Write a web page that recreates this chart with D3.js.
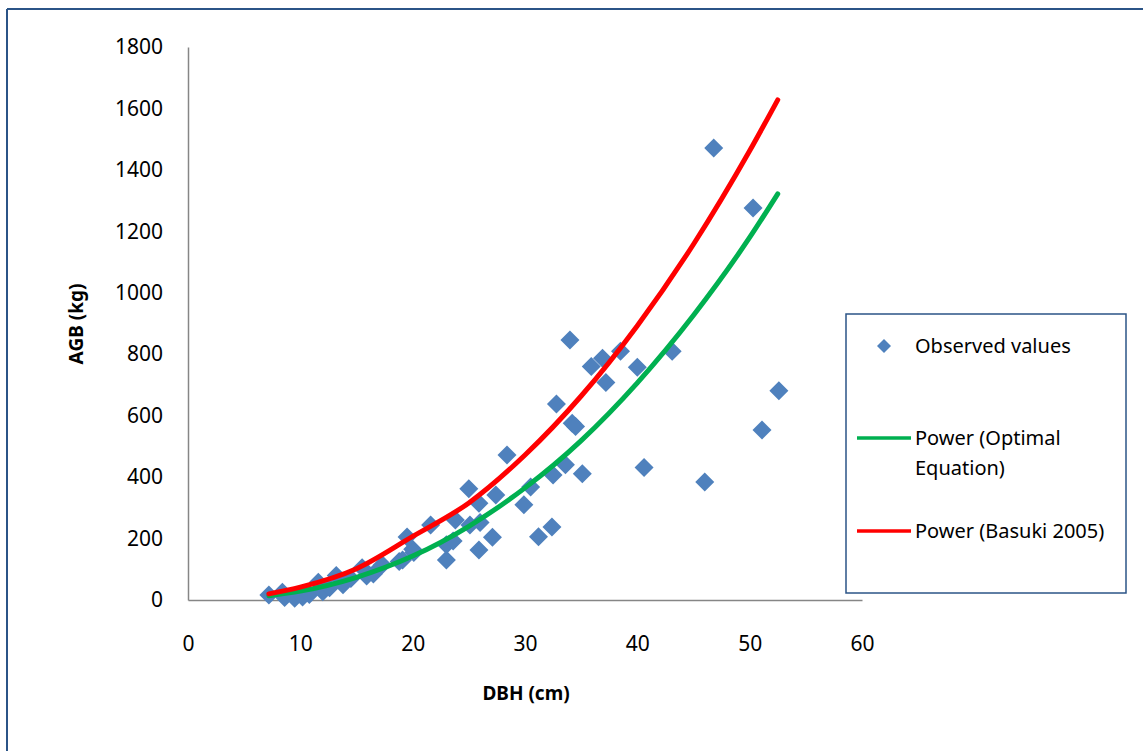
<!DOCTYPE html>
<html>
<head>
<meta charset="utf-8">
<script src="https://cdn.jsdelivr.net/npm/d3@7"></script>
<style>
  body { margin: 0; background: #fff; }
  svg text { font-family: "Noto Sans", "Open Sans", sans-serif; fill: #000; }
</style>
</head>
<body>
<div id="chart"></div>
<script>
var width = 1143,
  height = 751;

// observed trees: DBH (cm) and AGB (kg)
const dbh = [
  7.2, 8.4, 8.6, 9.5, 10.2, 10.8, 11.6, 12.0, 12.6, 13.2, 13.8, 14.5, 15.5, 15.9,
  16.5, 17.3, 18.8, 19.1, 19.5, 20.0, 20.1,
  21.6, 23.0, 23.0, 23.6, 23.8, 25.0, 25.1, 25.9, 25.9, 26.0, 27.1, 27.4, 28.4,
  29.9, 30.5, 31.2, 32.4, 32.5, 32.8, 33.6, 34.0, 34.2, 34.5, 35.1, 35.9, 36.9,
  37.2, 38.5, 40.0, 40.6, 43.1, 46.0, 46.8, 50.3, 51.1, 52.6,
];
const agb = [
  16, 25, 8, 6, 10, 18, 58, 27, 40, 80, 50, 70, 105, 78,
  85, 115, 125, 130, 205, 165, 155,
  244, 130, 180, 192, 260, 362, 244, 163, 315, 252, 204, 342, 472,
  310, 368, 206, 238, 407, 638, 440, 846, 575, 565, 411, 760, 787,
  708, 810, 758, 431, 810, 384, 1471, 1276, 553, 681,
];

// trend lines
const curveDbh = [7.2, 10, 15, 20, 25, 30, 35, 40, 45, 50, 52.5];
const optimalAgb = [14, 29, 74, 143, 240, 365, 519, 707, 927, 1180, 1322];
const basukiAgb = [20, 42, 102, 207, 316, 472, 664, 893, 1158, 1462, 1628];

const xTicks = [0, 10, 20, 30, 40, 50, 60];
const yTicks = [0, 200, 400, 600, 800, 1000, 1200, 1400, 1600, 1800];

const legendLabels = ["Observed values", "Power (Optimal Equation)", "Power (Basuki 2005)"];

var margin = { left: 188, top: 47, right: 281, bottom: 151 };
var plotW = width - margin.left - margin.right,
  plotH = height - margin.top - margin.bottom;

var svg = d3
  .select("#chart")
  .append("svg")
  .attr("width", width)
  .attr("height", height);

// outer frame (only top and left edges visible)
svg.append("line").attr("x1", 7).attr("x2", width).attr("y1", 9).attr("y2", 9)
  .attr("stroke", "#2B5487").attr("stroke-width", 2);
svg.append("line").attr("x1", 7).attr("x2", 7).attr("y1", 9).attr("y2", height)
  .attr("stroke", "#2B5487").attr("stroke-width", 2);

var x = d3.scaleLinear().domain([0, 60]).range([margin.left, margin.left + plotW]);
var y = d3.scaleLinear().domain([0, 1800]).range([margin.top + plotH, margin.top]);

// axes: grey lines, no tick marks
var xAxis = svg
  .append("g")
  .attr("transform", "translate(0," + y(0) + ")")
  .call(d3.axisBottom(x).tickValues(xTicks).tickSize(0).tickPadding(51).tickFormat(d3.format("d")));
var yAxis = svg
  .append("g")
  .attr("transform", "translate(" + x(0) + ",0)")
  .call(d3.axisLeft(y).tickValues(yTicks).tickSize(0).tickPadding(25).tickFormat(d3.format("d")));
[xAxis, yAxis].forEach(function (g) {
  g.select(".domain").attr("stroke", "#868686").attr("stroke-width", 1.5);
  g.selectAll("text")
    .style("font-family", '"Noto Sans", sans-serif')
    .style("font-size", "21px")
    .attr("fill", "#000");
});
xAxis.selectAll("text").attr("dy", "0");

svg
  .append("text")
  .attr("x", 526)
  .attr("y", 700)
  .attr("text-anchor", "middle")
  .style("font-size", "19px")
  .style("font-weight", "bold")
  .text("DBH (cm)");

svg
  .append("text")
  .attr("transform", "translate(83," + 324 + ") rotate(-90)")
  .attr("text-anchor", "middle")
  .style("font-size", "19px")
  .style("font-weight", "bold")
  .text("AGB (kg)");

// diamonds
function diamond(r) {
  return "M0," + -r + "L" + r + ",0L0," + r + "L" + -r + ",0Z";
}
svg
  .append("g")
  .selectAll("path")
  .data(dbh.map(function (d, i) { return [d, agb[i]]; }))
  .enter()
  .append("path")
  .attr("d", diamond(9.5))
  .attr("transform", function (d) { return "translate(" + x(d[0]) + "," + y(d[1]) + ")"; })
  .attr("fill", "#4F81BD");

// power trend lines
var line = d3
  .line()
  .x(function (d) { return x(d[0]); })
  .y(function (d) { return y(d[1]); })
  .curve(d3.curveMonotoneX);

svg.append("path")
  .datum(curveDbh.map(function (d, i) { return [d, optimalAgb[i]]; }))
  .attr("d", line)
  .attr("fill", "none")
  .attr("stroke", "#00B050")
  .attr("stroke-width", 5)
  .attr("stroke-linecap", "round");

svg.append("path")
  .datum(curveDbh.map(function (d, i) { return [d, basukiAgb[i]]; }))
  .attr("d", line)
  .attr("fill", "none")
  .attr("stroke", "#FF0000")
  .attr("stroke-width", 5)
  .attr("stroke-linecap", "round");

// legend
var lg = svg.append("g");
lg.append("rect")
  .attr("x", 846).attr("y", 314).attr("width", 280).attr("height", 279)
  .attr("fill", "#fff").attr("stroke", "#2B5487").attr("stroke-width", 1.5);

lg.append("path").attr("d", diamond(7)).attr("transform", "translate(884,346)").attr("fill", "#4F81BD");
lg.append("text").attr("x", 915).attr("y", 353).style("font-size", "20px").text(legendLabels[0]);

lg.append("line").attr("x1", 857).attr("x2", 911).attr("y1", 438).attr("y2", 438)
  .attr("stroke", "#00B050").attr("stroke-width", 3.5);
lg.append("text").attr("x", 915).attr("y", 445).style("font-size", "20px").text("Power (Optimal");
lg.append("text").attr("x", 915).attr("y", 475).style("font-size", "20px").text("Equation)");

lg.append("line").attr("x1", 857).attr("x2", 911).attr("y1", 531).attr("y2", 531)
  .attr("stroke", "#FF0000").attr("stroke-width", 3.5);
lg.append("text").attr("x", 915).attr("y", 538).style("font-size", "20px").text(legendLabels[2]);
</script>
</body>
</html>
